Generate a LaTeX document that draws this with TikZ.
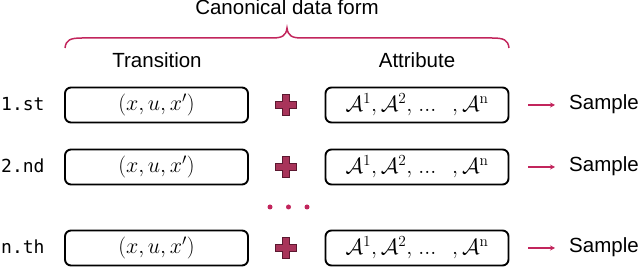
\RequirePackage{fix-cm}
\documentclass[tikz,border=0pt]{standalone}
\usepackage[no-math]{fontspec}
\setmainfont{Liberation Sans}
\newfontfamily\monof{DejaVu Sans Mono}
\usetikzlibrary{arrows.meta}
\definecolor{crim}{HTML}{C2255C}
\definecolor{plusfill}{HTML}{A8345A}
\definecolor{plusedge}{HTML}{5C1830}
\begin{document}
\begin{tikzpicture}[x=1pt,y=1pt,
 box/.style={draw, line width=1.9pt, rounded corners=6pt, minimum width=183pt, minimum height=35pt, inner sep=0pt, font=\fontsize{22}{26}\selectfont},
 hdr/.style={font=\fontsize{20.5}{24}\selectfont, inner sep=0pt, anchor=base},
 rowlab/.style={font=\monof\fontsize{18}{22}\selectfont, inner sep=0pt, anchor=base west},
 smp/.style={font=\fontsize{20.5}{24}\selectfont, inner sep=0pt, anchor=base west},
 arr/.style={draw=crim, line width=1.4pt, -{Stealth[length=5pt,width=5pt]}},
 dotmark/.style={circle, fill=crim, inner sep=0pt, minimum size=5pt},
 plusmark/.pic={\filldraw[fill=plusfill, draw=plusedge, line width=1pt] (-3.5,-10.5) -- (3.5,-10.5) -- (3.5,-3.5) -- (10.5,-3.5) -- (10.5,3.5) -- (3.5,3.5) -- (3.5,10.5) -- (-3.5,10.5) -- (-3.5,3.5) -- (-10.5,3.5) -- (-10.5,-3.5) -- (-3.5,-3.5) -- cycle;}
]
\useasboundingbox (0,0) rectangle (640,267);
% headers
\node[hdr] (hc) at (287,252) {Canonical data form};
\node[hdr] (ht) at (157,199) {Transition};
\node[hdr] (ha) at (417,199) {Attribute};
% brace
\draw[crim, line width=1.5pt] (65,219) .. controls (66,227) and (70,229) .. (82,229) -- (272,229) .. controls (282,229) and (286,231) .. (287,239) .. controls (288,231) and (292,229) .. (302,229) -- (492,229) .. controls (504,229) and (508,227) .. (509,219);
% rows
\foreach \lab/\y/\n in {1.st/162/1, 2.nd/100/2, n.th/19/3}{
  \node[rowlab] (l\n) at (1,\y-5.5) {\lab};
  \node[box] (t\n) at (156.5,\y) {$(x,u,x')$};
  \pic at (286,\y) {plusmark};
  \node[box] (a\n) at (417,\y) {$\mathcal{A}^1,\mathcal{A}^2,\mkern2mu\ldotp\mkern-3mu\ldotp\mkern-3mu\ldotp\mkern10mu,\mathcal{A}^{\mathrm{n}}$};
  \node[smp] (s\n) at (569,\y-4.5) {Sample};
  \draw[arr, shorten <=19pt, shorten >=14pt] (a\n.east) -- (a\n.east -| s\n.west);
}
% dots
\node[dotmark] (d1) at (270,60) {};
\node[dotmark] (d2) at (288.5,60) {};
\node[dotmark] (d3) at (307,60) {};
\end{tikzpicture}
\end{document}
